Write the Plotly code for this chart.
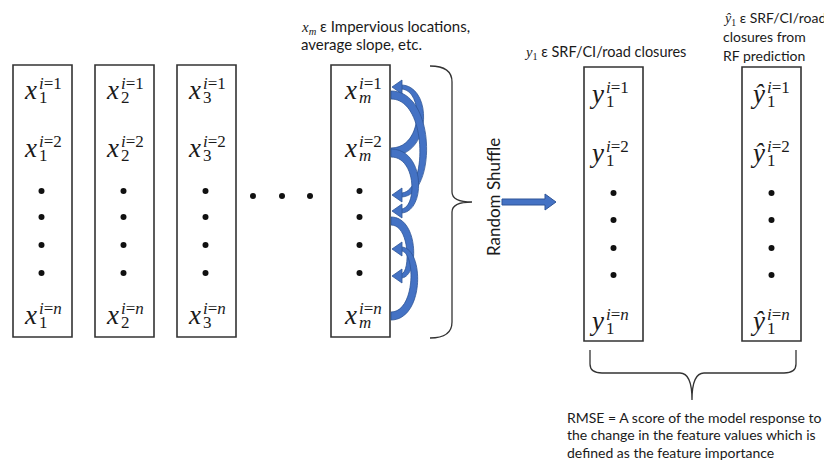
import plotly.graph_objects as go

W, H = 832, 462
OFF = 8  # browser body margin

# ---------------- data ----------------
feature_subs = ["1", "2", "3", "m"]          # feature columns x_1, x_2, x_3 ... x_m
row_sups = ["i=1", "i=2", "i=n"]             # sample rows
n_mid_dots = 4                               # vertical ellipsis dots per column
target_cols = ["y", "ŷ"]                     # target / prediction columns
target_sub = "1"
shuffle_from = [152, 95, 153, 221, 316]      # shuffle arrows: start row position
shuffle_to = [87, 195, 211, 276, 249]        # shuffle arrows: end row position
shuffle_bulge = [420, 423, 415, 410, 414]

header_xm = ["<span style='font-family:Liberation Serif'><i>x</i><sub><i>m</i></sub></span> ε Impervious locations,",
             "average slope, etc."]
header_y = ["<span style='font-family:Liberation Serif'><i>y</i><sub>1</sub></span> ε SRF/CI/road closures"]
header_yhat = ["<span style='font-family:Liberation Serif'><i>ŷ</i><sub>1</sub></span> ε SRF/CI/road",
               "closures from", "RF prediction"]
shuffle_text = "Random Shuffle"
rmse_text = ["RMSE = A score of the model response to",
             "the change in the feature values which is",
             "defined as the feature importance"]

# ---------------- layout constants ----------------
BOX_W = 59
x_box_left = [13, 95, 177, 331]
x_box_top, x_box_bot = 65, 337
x_split_off = [-4, -4, -4, -2]
x_sup_y = [83, 141, 308]
x_dot_y = [191, 217, 245, 273]

y_box_left = [584, 742]
y_box_top, y_box_bot = 67, 341
y_split_off = [-8, -5]
y_sup_y = [87, 146, 314]
y_dot_y = [193, 220, 248, 275]

ellipsis_x = [253, 282, 310]
ellipsis_y = 196

BLUE = "#4472C4"
BLUE_D = "#2F5597"
LINE = "#333333"
TXT = "#1a1a1a"
SANS = "Lato"
SERIF = "Liberation Serif"

fig = go.Figure()
shapes = []
ann = []


def sup_html(s):
    a, b = s.split("=")
    b = f"<i>{b}</i>" if b.isalpha() else b
    return f"<i>{a}</i>={b}"


def math_label(base, sub, sup, split_x, sup_y):
    ann.append(dict(x=split_x, y=sup_y + 7, text=f"<i>{base}</i>", xanchor="right", yanchor="middle",
                    showarrow=False, font=dict(family=SERIF, size=27, color=TXT)))
    ann.append(dict(x=split_x - 2, y=sup_y, text=sup_html(sup), xanchor="left", yanchor="middle",
                    showarrow=False, font=dict(family=SERIF, size=17, color=TXT)))
    subt = f"<i>{sub}</i>" if sub.isalpha() else sub
    ann.append(dict(x=split_x - 2, y=sup_y + 14, text=subt, xanchor="left", yanchor="middle",
                    showarrow=False, font=dict(family=SERIF, size=17, color=TXT)))


def text_lines(lines, x, y0, dy, size):
    for i, t in enumerate(lines):
        ann.append(dict(x=x, y=y0 + i * dy, text=t, xanchor="left", yanchor="middle", align="left",
                        showarrow=False, font=dict(family=SANS, size=size, color=TXT)))


dot_x, dot_y = [], []

# feature columns
for k, sub in enumerate(feature_subs):
    L = x_box_left[k]
    shapes.append(dict(type="rect", x0=L, x1=L + BOX_W, y0=x_box_top, y1=x_box_bot,
                       line=dict(color=LINE, width=1.6)))
    cx = L + BOX_W / 2
    for r, sup in enumerate(row_sups):
        math_label("x", sub, sup, cx + x_split_off[k], x_sup_y[r])
    for d in range(n_mid_dots):
        dot_x.append(cx - 1)
        dot_y.append(x_dot_y[d])

# target columns
for k, base in enumerate(target_cols):
    L = y_box_left[k]
    shapes.append(dict(type="rect", x0=L, x1=L + BOX_W, y0=y_box_top, y1=y_box_bot,
                       line=dict(color=LINE, width=1.6)))
    cx = L + BOX_W / 2
    for r, sup in enumerate(row_sups):
        math_label(base, target_sub, sup, cx + y_split_off[k], y_sup_y[r])
    for d in range(n_mid_dots):
        dot_x.append(cx)
        dot_y.append(y_dot_y[d])

# horizontal ellipsis
for ex in ellipsis_x:
    dot_x.append(ex)
    dot_y.append(ellipsis_y)

fig.add_trace(go.Scatter(x=dot_x, y=dot_y, mode="markers",
                         marker=dict(color="#111", size=6), hoverinfo="skip", showlegend=False))

# shuffle arrows (tapered curved bands)
edge = x_box_left[3] + BOX_W + 1
t0, t1 = 8, 4
for y0, y1, bx in zip(shuffle_from, shuffle_to, shuffle_bulge):
    s = 1 if y1 > y0 else -1
    c = (4 * bx - edge) / 3
    end_x = edge + 10
    co, ci = c + 3, c - 6
    oy0, oy1 = y0 - s * t0 / 2, y1 + s * t1 / 2
    iy0, iy1 = y0 + s * t0 / 2, y1 - s * t1 / 2
    path = (f"M {edge},{oy0} C {co},{oy0} {co},{oy1} {end_x},{oy1} "
            f"L {end_x},{iy1} C {ci},{iy1} {ci},{iy0} {edge},{iy0} Z")
    shapes.append(dict(type="path", path=path, fillcolor=BLUE, line=dict(color=BLUE_D, width=0.8)))
    shapes.append(dict(type="path",
                       path=f"M {edge + 1},{y1} L {end_x + 1},{y1 - 7} L {end_x + 1},{y1 + 7} Z",
                       fillcolor=BLUE, line=dict(color=BLUE_D, width=0.8)))

# right brace next to x_m column
shapes.append(dict(type="path",
                   path="M 430,66 Q 452,66 452,82 L 452,192 Q 452,202 472,202 Q 452,202 452,212 L 452,322 Q 452,338 430,338",
                   line=dict(color=LINE, width=1.3)))

# bottom brace
shapes.append(dict(type="path",
                   path="M 590,350 L 590,364 Q 590,373 602,373 L 680,373 Q 692,373 692,400 Q 692,373 704,373 L 784,373 Q 796,373 796,364 L 796,350",
                   line=dict(color=LINE, width=1.3)))

# block arrow
shapes.append(dict(type="path",
                   path="M 502,199 L 545,199 L 545,194 L 556,202 L 545,210 L 545,205 L 502,205 Z",
                   fillcolor=BLUE, line=dict(color=BLUE_D, width=1)))

# texts
text_lines(header_xm, 299, 27, 17, 15)
text_lines(header_y, 522, 52, 18, 14.5)
text_lines(header_yhat, 721, 18, 18.5, 14)
text_lines(rmse_text, 565, 417, 17.5, 14)
ann.append(dict(x=493, y=197, text=shuffle_text, textangle=-90, xanchor="center", yanchor="middle",
                showarrow=False, font=dict(family=SANS, size=17, color=TXT)))

fig.update_layout(
    width=W - OFF, height=H - OFF, margin=dict(l=0, r=0, t=0, b=0),
    paper_bgcolor="white", plot_bgcolor="white",
    xaxis=dict(range=[OFF, W], visible=False, fixedrange=True),
    yaxis=dict(range=[H, OFF], visible=False, fixedrange=True),
    shapes=shapes, annotations=ann, showlegend=False,
)

fig.write_html("out.html")
